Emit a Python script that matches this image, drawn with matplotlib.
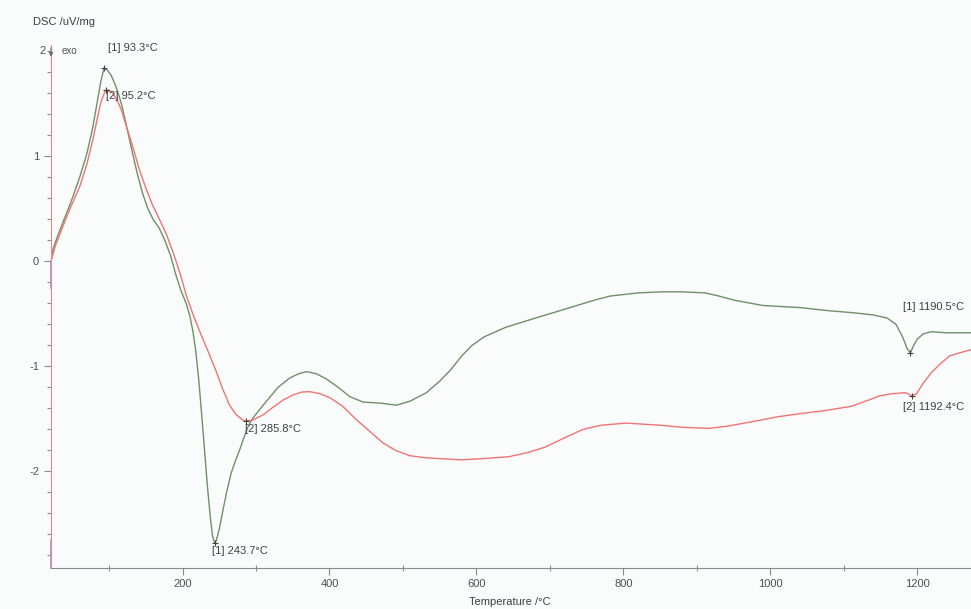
import numpy as np
import matplotlib.pyplot as plt
from matplotlib.ticker import MultipleLocator

plt.rcParams['font.family'] = ['Liberation Sans', 'DejaVu Sans']

# curve [1] (green)
temp1 = [21, 24, 30, 40, 50, 60, 70, 78, 84, 89, 93.3, 98, 103, 108, 113, 118,
         125, 132, 139, 146, 153, 160, 168, 176, 184, 191, 198, 205, 210, 214,
         218, 222, 226, 230, 234, 238, 241, 243.7, 246, 250, 255, 260, 266, 272,
         278, 284, 290, 296, 305, 318, 330, 346, 358, 369, 382, 396, 412, 428,
         446, 470, 491, 510, 532, 550, 564, 580, 594, 610, 639, 680, 718, 760,
         782, 820, 852, 880, 911, 930, 951, 990, 1040, 1080, 1114, 1140, 1159,
         1171, 1180, 1186, 1190.5, 1195, 1200, 1208, 1219, 1240, 1273]
dsc1 = [0.0, 0.12, 0.24, 0.42, 0.60, 0.80, 1.03, 1.28, 1.52, 1.72, 1.84, 1.82,
        1.77, 1.69, 1.59, 1.47, 1.25, 1.03, 0.82, 0.64, 0.50, 0.40, 0.32, 0.20,
        0.05, -0.13, -0.28, -0.40, -0.52, -0.66, -0.85, -1.12, -1.45, -1.80,
        -2.15, -2.45, -2.62, -2.68, -2.66, -2.55, -2.37, -2.20, -2.02, -1.90,
        -1.79, -1.67, -1.56, -1.49, -1.41, -1.30, -1.20, -1.11, -1.07, -1.05,
        -1.07, -1.12, -1.20, -1.29, -1.34, -1.35, -1.37, -1.33, -1.25, -1.14,
        -1.04, -0.90, -0.80, -0.72, -0.63, -0.54, -0.46, -0.37, -0.33, -0.30,
        -0.29, -0.29, -0.30, -0.33, -0.37, -0.42, -0.44, -0.47, -0.49, -0.51,
        -0.54, -0.60, -0.72, -0.83, -0.87, -0.80, -0.74, -0.69, -0.67, -0.68,
        -0.68]

# curve [2] (red)
temp2 = [21, 27, 37, 48, 60, 70, 78, 84, 89, 95.2, 100, 105, 110, 117, 123, 132,
         141, 150, 159, 168, 178, 188, 196, 205, 214, 223, 235, 246, 255, 264,
         273, 282, 285.8, 296, 310, 323, 337, 351, 362, 373, 387, 401, 418, 437,
         455, 473, 490, 509, 530, 555, 580, 605, 644, 670, 693, 720, 745, 770,
         803, 850, 880, 916, 941, 980, 1010, 1040, 1075, 1110, 1130, 1149, 1165,
         1184, 1192.4, 1199, 1208, 1219, 1232, 1244, 1258, 1273]
dsc2 = [0.0, 0.15, 0.33, 0.52, 0.71, 0.93, 1.16, 1.36, 1.52, 1.63, 1.63, 1.60,
        1.55, 1.44, 1.30, 1.10, 0.88, 0.70, 0.54, 0.41, 0.26, 0.07, -0.10, -0.32,
        -0.50, -0.66, -0.86, -1.05, -1.22, -1.37, -1.46, -1.51, -1.52, -1.51,
        -1.46, -1.39, -1.32, -1.27, -1.245, -1.24, -1.26, -1.30, -1.38, -1.51,
        -1.62, -1.73, -1.80, -1.85, -1.87, -1.88, -1.89, -1.88, -1.86, -1.82,
        -1.77, -1.68, -1.60, -1.56, -1.54, -1.56, -1.58, -1.59, -1.57, -1.52,
        -1.48, -1.45, -1.42, -1.38, -1.33, -1.28, -1.26, -1.25, -1.28, -1.26,
        -1.16, -1.06, -0.97, -0.90, -0.87, -0.84]

# marked peaks: (label, temperature, value, text offset in px)
peak_labels = ["[1] 93.3°C", "[2] 95.2°C", "[1] 243.7°C", "[2] 285.8°C",
               "[1] 1190.5°C", "[2] 1192.4°C"]
peak_temps = [93.3, 95.2, 243.7, 285.8, 1190.5, 1192.4]
peak_vals = [1.84, 1.63, -2.68, -1.52, -0.87, -1.28]
label_offsets = [(4, 20), (0, -6), (-3, -8), (-1, -8), (-7, 46), (-9, -11)]

fig = plt.figure(figsize=(9.71, 6.09), dpi=100)
fig.patch.set_facecolor('#fafbfb')
ax = fig.add_axes([0.0525, 0.0673, 0.9475, 0.8587])
ax.set_facecolor('#fafbfb')

ax.plot(temp1, dsc1, color='#6f9068', lw=1.0)
ax.plot(temp2, dsc2, color='#f07474', lw=1.0)

ax.set_xlim(21, 1273)
ax.set_ylim(-2.92, 2.06)

for s in ['top', 'right']:
    ax.spines[s].set_visible(False)
ax.spines['bottom'].set_color('#8a8a8a')
ax.spines['left'].set_color('#e58b8b')
# bluish segments of the left axis
ax.plot([21, 21], [0.0, -0.25], color='#9a8ee8', lw=1.2, clip_on=False)
ax.plot([21, 21], [-2.65, -2.92], color='#9a8ee8', lw=1.2, clip_on=False)

ax.xaxis.set_major_locator(MultipleLocator(200))
ax.xaxis.set_minor_locator(MultipleLocator(100))
ax.yaxis.set_major_locator(MultipleLocator(1))
ax.yaxis.set_minor_locator(MultipleLocator(0.2))
ax.tick_params(axis='both', which='major', length=5, width=0.8, color='#8a8a8a',
               labelsize=8, labelcolor='#505050', direction='out')
ax.tick_params(axis='both', which='minor', length=3, width=0.8, color='#8a8a8a',
               direction='out')
ax.tick_params(axis='x', which='minor', direction='inout', length=4)
ax.tick_params(axis='x', pad=3)
ax.set_yticks([-2, -1, 0, 1])
ax.set_yticklabels(['-2', '-1', '0', '1'])

# "2" label with exo arrow
ax.text(-0.006, 2.0, "2", transform=ax.get_yaxis_transform(), ha='right',
        va='center', fontsize=8, color='#505050')
ax.annotate("", xy=(0, 1.92), xytext=(0, 2.06), xycoords=ax.get_yaxis_transform(),
            arrowprops=dict(arrowstyle='-|>', color='#707070', lw=0.8,
                            mutation_scale=6), annotation_clip=False)
ax.text(0.012, 2.0, "exo", transform=ax.get_yaxis_transform(), ha='left',
        va='center', fontsize=7, color='#505050')

for lab, t, v, off in zip(peak_labels, peak_temps, peak_vals, label_offsets):
    ax.plot(t, v, marker='+', color='#404040', ms=5, mew=0.8)
    ax.annotate(lab, xy=(t, v), xytext=(off[0] * 0.72, off[1] * 0.72),
                textcoords='offset points', ha='left', va='center',
                fontsize=8, color='#404040')

fig.text(33 / 971, 1 - 22 / 609, "DSC /uV/mg", ha='left', va='center',
         fontsize=8, color='#404040')
fig.text(510 / 971, 1 - 597 / 609, "Temperature /°C", ha='center', va='top',
         fontsize=8, color='#404040')

fig.savefig('out.png', dpi=100, facecolor=fig.get_facecolor())
